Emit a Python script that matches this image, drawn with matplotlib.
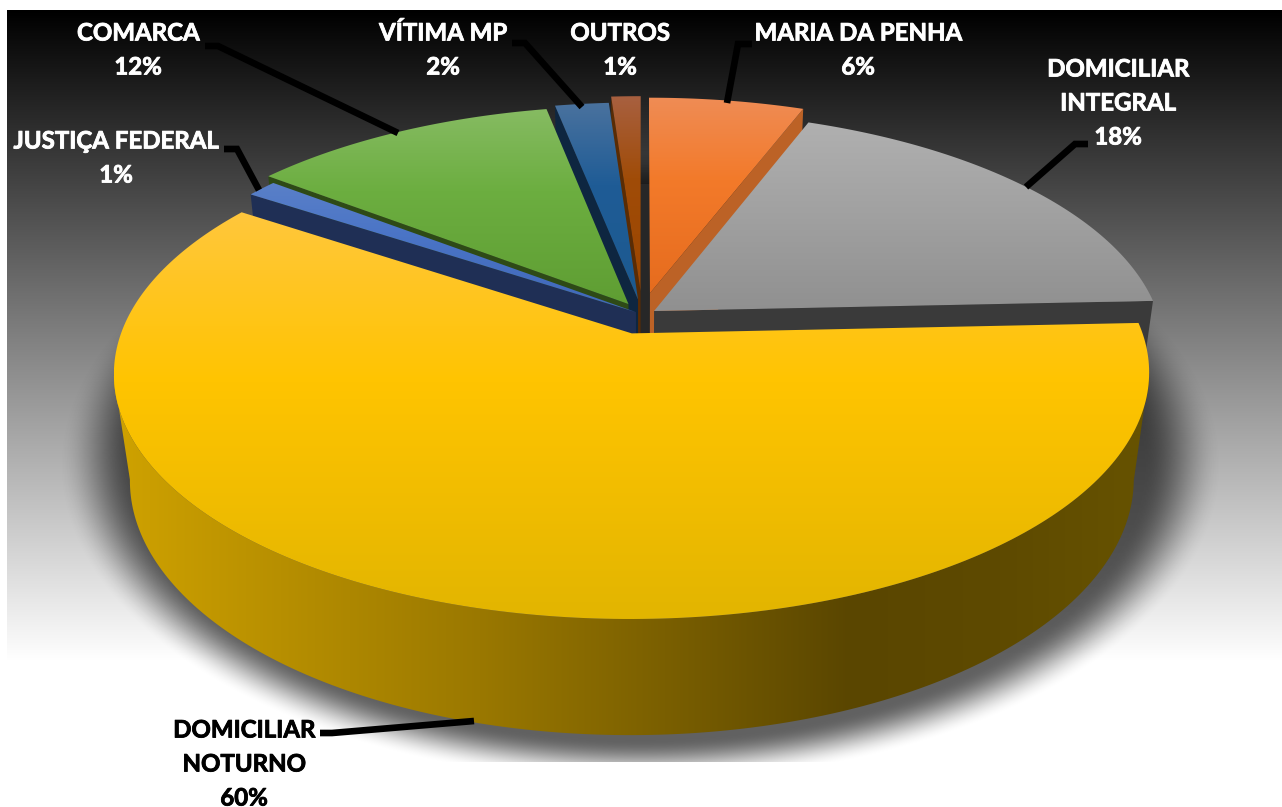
#!/usr/bin/env python3
import numpy as np
import matplotlib
matplotlib.use("Agg")
import matplotlib.pyplot as plt
import matplotlib.patheffects as pe
from matplotlib.patches import Polygon, Rectangle

# clockwise from 12 o'clock, as in the picture
names = ["MARIA DA PENHA", "DOMICILIAR\nINTEGRAL", "DOMICILIAR\nNOTURNO", "JUSTIÇA FEDERAL",
         "COMARCA", "VÍTIMA MP", "OUTROS"]
shares = [5.8, 18.5, 60.0, 1.15, 11.45, 2.0, 1.1]
pct_labels = ["6%", "18%", "60%", "1%", "12%", "2%", "1%"]

# how far each slice is pulled out of the centre (pie units)
pull_u = [0.016, 0.024, -0.020, -0.012, -0.027, -0.008, -0.003]
pull_v = [0.078, 0.000, -0.095, -0.005, 0.030, 0.050, 0.087]

top_colors = [["#ef8c55", "#f37a2a", "#e66c1e"],
              ["#b0b0b0", "#a3a3a3", "#909090"],
              ["#ffc73c", "#ffc400", "#e2b500"],
              ["#5a80c8", "#4a74c6", "#4068b8"],
              ["#86bb62", "#6cae40", "#5f9e33"],
              ["#4a729e", "#1f5c96", "#1c5a90"],
              ["#a86040", "#a04c08", "#9c4600"]]
wall_colors = ["#bc6226", "#3a3a3a", "#5a4600", "#1f2f55", "#2e4a16", "#0e2640", "#5a2c04"]

rim_x = [115, 480, 850, 1000, 1130]
rim_c = ["#cfa200", "#9a7800", "#5a4600", "#5e4a00", "#665200"]

# pie geometry in pixels
cx, cy = 642, 311
A, B, k = 503, 232, 0.16
D, m = 108.5, 0.03

plt.rcParams["font.family"] = ["Lato", "DejaVu Sans"]
plt.rcParams["font.weight"] = "bold"

fig = plt.figure(figsize=(12.82, 8.07), dpi=100)
ax = fig.add_axes([0, 0, 1, 1])
ax.axis("off")


def rgb(c):
    return np.array(matplotlib.colors.to_rgb(c))


def project(u, v, lower=False):
    if lower:
        den = 1 + k * v + m
        return cx + A * u / den, cy + (D - B * v) / den
    den = 1 + k * v
    return cx + A * u / den, cy - B * v / den


def rim(a, b, du, dv, lower=False, n=240):
    t = np.radians(np.linspace(a, b, n))
    return project(np.sin(t) + du, np.cos(t) + dv, lower)


def filled(pts, img, ext, z):
    im = ax.imshow(img, extent=ext, aspect="auto", zorder=z, interpolation="bilinear")
    patch = Polygon(pts, closed=True, transform=ax.transData, fc="none", ec="none")
    ax.add_patch(patch)
    im.set_clip_path(patch)


# background gradient
yy = np.arange(10, 762)
bg = np.clip((yy - 10) / 650.0, 0, 1)[:, None, None] * np.ones((1, 1, 3))
ax.imshow(bg, extent=[7, 1282, 762, 10], aspect="auto", zorder=1)

# soft shadow under the pie
gx, gy = np.meshgrid(np.arange(7, 1282), np.arange(10, 762))
r = np.sqrt(((gx - 640) / 560.0) ** 2 + ((gy - 465) / 305.0) ** 2)
s = np.clip((1.04 - r) / 0.14, 0, 1)
s = s * s * (3 - 2 * s) * 0.62
shadow = np.zeros(gx.shape + (4,))
shadow[..., 3] = s
ax.imshow(shadow, extent=[7, 1282, 762, 10], aspect="auto", zorder=2)

ax.add_patch(Rectangle((639, 184), 11, 150, fc="#272727", ec="none", zorder=3))

edges = np.concatenate([[0], np.cumsum(shares)]) * 3.6
order = [6, 5, 4, 3, 0, 1, 2]
z = 4
for i in order:
    a, b = edges[i], edges[i + 1]
    du, dv = pull_u[i], pull_v[i]
    top_apex = project(du, dv)
    low_apex = project(du, dv, True)
    tx, ty = rim(a, b, du, dv)

    # cut faces that look at the viewer
    if i in (3, 4, 5, 6):
        lx, ly = rim(a, a, du, dv, True, 2)
        wall = [top_apex, (tx[0], ty[0]), (lx[0], ly[0]), low_apex]
        ax.add_patch(Polygon(wall, fc=wall_colors[i], ec="none", zorder=z))
    elif i in (0, 1):
        lx, ly = rim(b, b, du, dv, True, 2)
        wall = [top_apex, (tx[-1], ty[-1]), (lx[0], ly[0]), low_apex]
        ax.add_patch(Polygon(wall, fc=wall_colors[i], ec="none", zorder=z))
    else:
        # outer side of the big slice, between the two silhouette points
        lx, ly = rim(a, b, du, dv, True)
        t0, t1 = np.argmax(tx), np.argmin(tx)
        l0, l1 = np.argmax(lx), np.argmin(lx)
        pts = np.column_stack([np.r_[tx[t0:t1 + 1], lx[l0:l1 + 1][::-1]],
                               np.r_[ty[t0:t1 + 1], ly[l0:l1 + 1][::-1]]])
        xs = np.arange(100, 1170)
        cols = np.column_stack([np.interp(xs, rim_x, [rgb(c)[j] for c in rim_c]) for j in range(3)])
        filled(pts, cols[None, :, :], [100, 1170, 760, 300], z)
    z += 1

    # top face
    pts = np.column_stack([np.r_[top_apex[0], tx], np.r_[top_apex[1], ty]])
    y0, y1 = pts[:, 1].min(), pts[:, 1].max()
    ys = np.linspace(0, 1, 200)
    c = [rgb(x) for x in top_colors[i]]
    cols = np.column_stack([np.interp(ys, [0, 0.42, 1], [c[0][j], c[1][j], c[2][j]]) for j in range(3)])
    filled(pts, cols[:, None, :], [pts[:, 0].min(), pts[:, 0].max(), y1, y0], z)
    z += 1

# leader lines, from each label to its slice
leaders = [([752, 738, 727], [44, 44, 103]),
           ([1088, 1075, 1026], [144, 144, 187]),
           ([320, 332, 474], [733, 733, 721]),
           ([224, 237, 259], [149, 149, 190]),
           ([205, 218, 398], [46, 46, 133]),
           ([512, 525, 582], [43, 43, 107])]
for lx, ly in leaders:
    ax.plot(lx, ly, color="black", lw=4.8, solid_capstyle="butt", solid_joinstyle="miter", zorder=30)

label_xy = [(858, 50), (1118, 103), (244, 764), (116, 158), (138, 50), (443, 50), (620, 50)]
label_col = ["white", "white", "black", "white", "white", "white", "white"]
for i in range(len(names)):
    t = ax.text(label_xy[i][0], label_xy[i][1], names[i] + "\n" + pct_labels[i], color=label_col[i],
                fontsize=17.3, fontweight="bold", ha="center", va="center", linespacing=1.58,
                multialignment="center", zorder=31)
    t.set_path_effects([pe.withStroke(linewidth=0.6, foreground=label_col[i])])

ax.set_xlim(0, 1282)
ax.set_ylim(807, 0)
fig.savefig("out.png", dpi=100, facecolor="white")
